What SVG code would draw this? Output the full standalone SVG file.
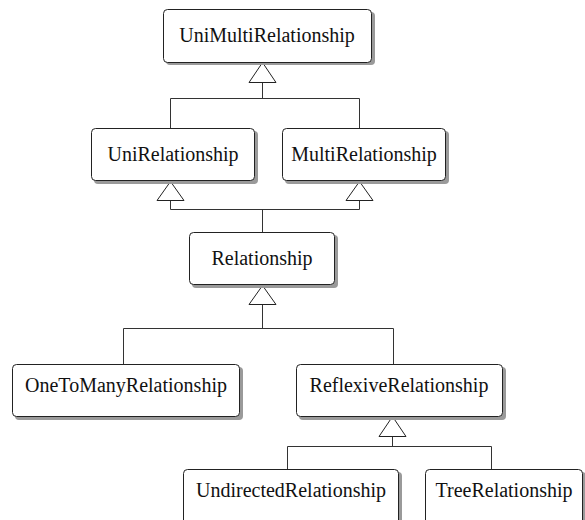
<svg xmlns="http://www.w3.org/2000/svg" width="585" height="520" viewBox="0 0 585 520">
<style>
.shadow{fill:#9a9a9a;stroke:none}
.box{fill:#fff;stroke:#222;stroke-width:1}
.lbl{font-family:"Liberation Serif","Times New Roman",serif;font-size:20px;fill:#111;text-anchor:middle}
.conn{fill:none;stroke:#333;stroke-width:1}
.tri{fill:#fff;stroke:#222;stroke-width:1}
</style>
<rect width="585" height="520" fill="#fff"/>
<g id="connectors">
<path class="conn" d="M262.5 82V98.5M170.5 128V98.5H359.5V128"/>
<path class="conn" d="M170.5 200V209.5H359.5V200M262.5 209.5V232"/>
<path class="conn" d="M262.5 304V328.5M123.5 364V328.5H393.5V364"/>
<path class="conn" d="M392.5 436V446.5M287.5 469V446.5H491.5V469"/>
<polygon class="tri" points="262.5,62.5 249,82.5 276,82.5"/>
<polygon class="tri" points="170.5,181.5 157,200.5 184,200.5"/>
<polygon class="tri" points="359.5,181.5 346,200.5 373,200.5"/>
<polygon class="tri" points="262.5,285.5 249,304.5 276,304.5"/>
<polygon class="tri" points="392.5,416.5 379,436.5 406,436.5"/>
</g>
<g id="UniMultiRelationship">
<rect class="shadow" x="166" y="12" width="209" height="53" rx="4"/>
<rect class="box" x="163.5" y="9.5" width="208" height="53" rx="4"/>
<text class="lbl" x="267" y="42">UniMultiRelationship</text>
</g>
<g id="UniRelationship">
<rect class="shadow" x="94" y="131" width="164" height="53" rx="4"/>
<rect class="box" x="91.5" y="128.5" width="163" height="52" rx="4"/>
<text class="lbl" x="173" y="161">UniRelationship</text>
</g>
<g id="MultiRelationship">
<rect class="shadow" x="285" y="131" width="164" height="53" rx="4"/>
<rect class="box" x="282.5" y="128.5" width="163" height="52" rx="4"/>
<text class="lbl" x="364" y="161">MultiRelationship</text>
</g>
<g id="Relationship">
<rect class="shadow" x="192" y="235" width="146" height="53" rx="4"/>
<rect class="box" x="189.5" y="232.5" width="145" height="52" rx="4"/>
<text class="lbl" x="262" y="265">Relationship</text>
</g>
<g id="OneToManyRelationship">
<rect class="shadow" x="15" y="367" width="228" height="53" rx="4"/>
<rect class="box" x="12.5" y="364.5" width="227" height="52" rx="4"/>
<text class="lbl" x="126" y="392">OneToManyRelationship</text>
</g>
<g id="ReflexiveRelationship">
<rect class="shadow" x="299" y="367" width="207" height="53" rx="4"/>
<rect class="box" x="296.5" y="364.5" width="206" height="52" rx="4"/>
<text class="lbl" x="399" y="392">ReflexiveRelationship</text>
</g>
<g id="UndirectedRelationship">
<rect class="shadow" x="186" y="472" width="216" height="60" rx="4"/>
<rect class="box" x="183.5" y="469.5" width="215" height="60" rx="4"/>
<text class="lbl" x="291" y="497">UndirectedRelationship</text>
</g>
<g id="TreeRelationship">
<rect class="shadow" x="428" y="472" width="158" height="60" rx="4"/>
<rect class="box" x="425.5" y="469.5" width="157" height="60" rx="4"/>
<text class="lbl" x="504" y="497">TreeRelationship</text>
</g>
</svg>
